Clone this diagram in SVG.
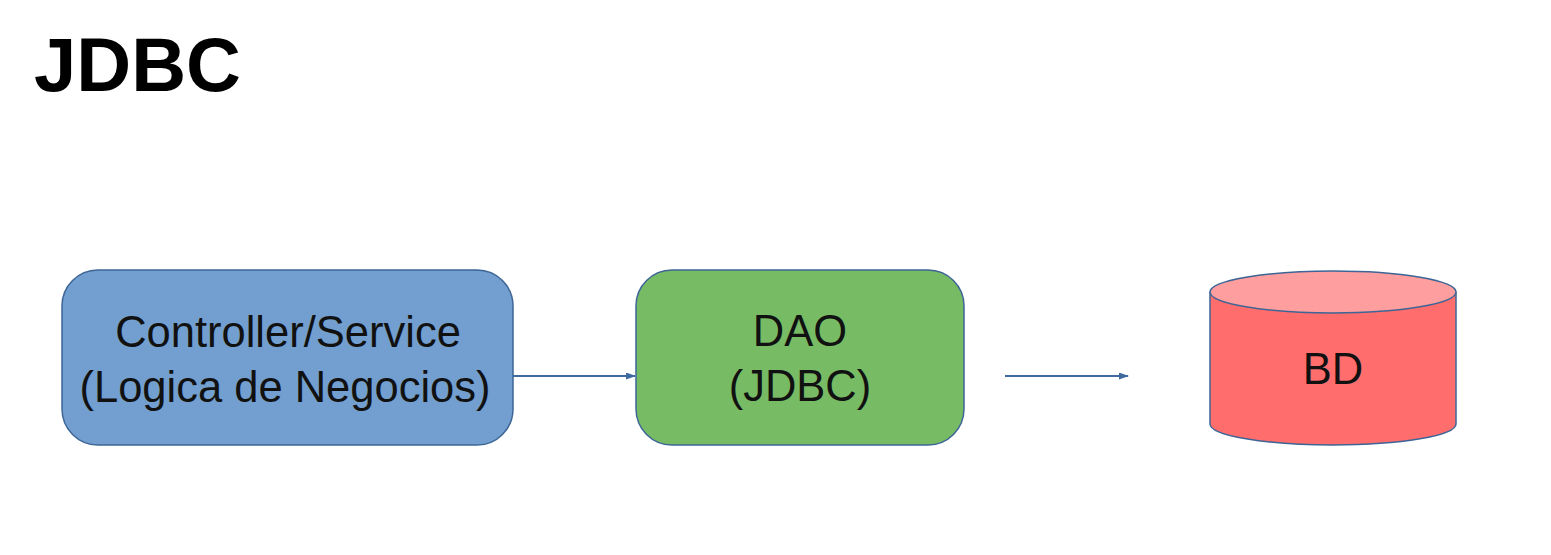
<svg xmlns="http://www.w3.org/2000/svg" width="1551" height="555" viewBox="0 0 1551 555">
<style>
.t{font-family:"Liberation Sans",Arial,sans-serif;font-size:43.5px;fill:#111;text-anchor:middle}
.c{stroke:#3f6a9e;stroke-width:2;fill:none}
</style>
<defs>
<marker id="ah" markerWidth="10" markerHeight="7" refX="9" refY="3.5" orient="auto" markerUnits="userSpaceOnUse">
<path d="M0,0 L10,3.5 L0,7 Z" fill="#3f6a9e"/>
</marker>
</defs>
<rect width="1551" height="555" fill="#fff"/>
<text x="34" y="91" style="font-family:'Liberation Sans',Arial,sans-serif;font-weight:bold;font-size:76px;fill:#000">JDBC</text>
<g id="controller">
<rect x="62" y="270" width="451" height="175" rx="36" fill="#729fcf" stroke="#3d6596" stroke-width="1.5"/>
<text class="t" x="288" y="347">Controller/Service</text>
<text class="t" x="285" y="402">(Logica de Negocios)</text>
</g>
<g id="dao">
<rect x="636" y="270" width="328" height="175" rx="36" fill="#77bc65" stroke="#3d6596" stroke-width="1.5"/>
<text class="t" x="800" y="346">DAO</text>
<text class="t" x="800" y="401">(JDBC)</text>
</g>
<g id="bd">
<path d="M1210,292 L1210,424 A123,21 0 0 0 1456,424 L1456,292" fill="#ff6d6d" stroke="#3d6596" stroke-width="1.5"/>
<ellipse cx="1333" cy="292" rx="123" ry="21" fill="#ff9e9e" stroke="#3d6596" stroke-width="1.5"/>
<text class="t" x="1333" y="384">BD</text>
</g>
<g id="connectors">
<line class="c" x1="513" y1="376" x2="635" y2="376" marker-end="url(#ah)"/>
<line class="c" x1="1005" y1="376" x2="1128" y2="376" marker-end="url(#ah)"/>
</g>
</svg>
